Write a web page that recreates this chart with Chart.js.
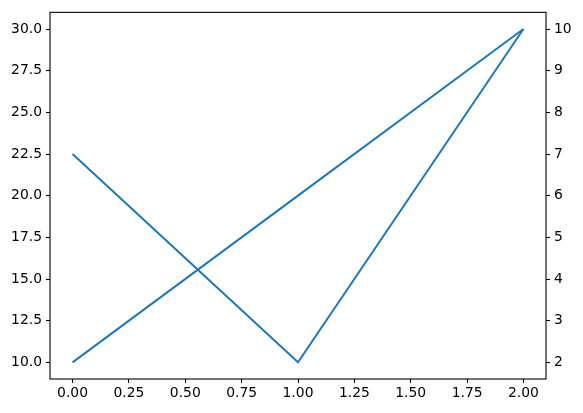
<!DOCTYPE html>
<html>
<head>
<meta charset="utf-8">
<script src="https://cdn.jsdelivr.net/npm/chart.js@4.4.0/dist/chart.umd.min.js"></script>
<style>
  html, body { margin: 0; padding: 0; background: #fff; }
  #wrap { width: 583px; height: 413px; }
</style>
</head>
<body>
<div id="wrap"><canvas id="chart" width="583" height="413"></canvas></div>
<script>
// data
const xValues = [0, 1, 2];
const leftValues = [10, 20, 30];
const rightValues = [7, 2, 10];

const lineColor = '#1f77b4';
const font = { family: 'DejaVu Sans', size: 13.9 };

// spines drawn round the plot area, like matplotlib
const frame = {
  id: 'frame',
  afterDraw(chart) {
    const { ctx, chartArea: a } = chart;
    ctx.save();
    ctx.strokeStyle = '#000';
    ctx.lineWidth = 1.1;
    ctx.strokeRect(a.left, a.top, a.right - a.left, a.bottom - a.top);
    ctx.restore();
  }
};

const tickGrid = {
  drawOnChartArea: false,
  color: '#000',
  tickLength: 4,
  tickWidth: 1.1
};

new Chart(document.getElementById('chart'), {
  type: 'line',
  data: {
    datasets: [
      {
        data: xValues.map((x, i) => ({ x, y: leftValues[i] })),
        borderColor: lineColor,
        borderWidth: 2,
        pointRadius: 0,
        yAxisID: 'y'
      },
      {
        data: xValues.map((x, i) => ({ x, y: rightValues[i] })),
        borderColor: lineColor,
        borderWidth: 2,
        pointRadius: 0,
        yAxisID: 'y2'
      }
    ]
  },
  options: {
    responsive: false,
    animation: false,
    layout: { padding: { top: 10, left: 0, right: 0, bottom: 0 } },
    plugins: { legend: { display: false }, tooltip: { enabled: false } },
    scales: {
      x: {
        type: 'linear',
        min: -0.1,
        max: 2.1,
        border: { display: false },
        grid: tickGrid,
        afterFit(s) { s.height = 34; },
        ticks: {
          stepSize: 0.25,
          includeBounds: false,
          maxRotation: 0,
          autoSkip: false,
          color: '#000',
          font,
          padding: 2,
          callback: v => v.toFixed(2)
        }
      },
      y: {
        position: 'left',
        min: 9,
        max: 31,
        border: { display: false },
        grid: tickGrid,
        afterFit(s) { s.width = 50; },
        ticks: {
          stepSize: 2.5,
          includeBounds: false,
          color: '#000',
          font,
          padding: 4,
          callback: v => v.toFixed(1)
        }
      },
      y2: {
        position: 'right',
        min: 1.6,
        max: 10.4,
        border: { display: false },
        grid: tickGrid,
        afterFit(s) { s.width = 37; },
        ticks: {
          stepSize: 1,
          includeBounds: false,
          color: '#000',
          font,
          padding: 4,
          callback: v => String(v)
        }
      }
    }
  },
  plugins: [frame]
});
</script>
</body>
</html>
